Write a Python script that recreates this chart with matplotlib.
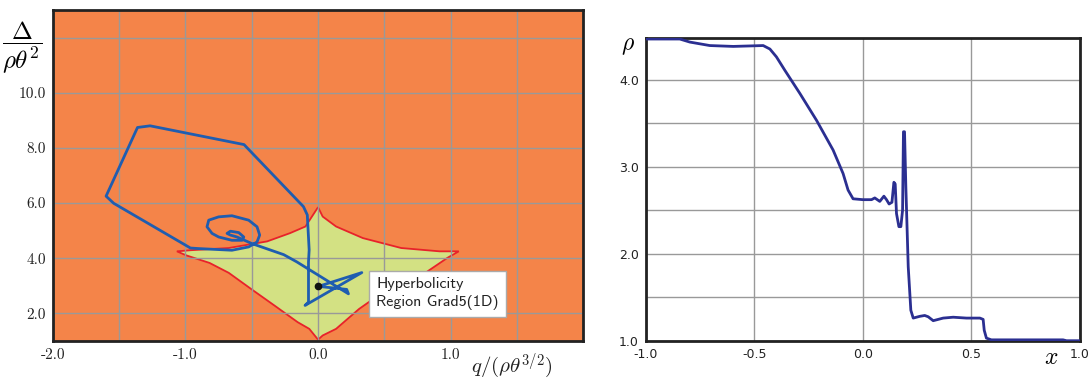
import numpy as np
import matplotlib
matplotlib.use("Agg")
import matplotlib.pyplot as plt

plt.rcParams['mathtext.fontset'] = 'cm'

# hyperbolicity region boundary (q, Delta)
region_q = [0.0, -0.095, -0.211, -0.384, -0.673, -0.962, -1.064, -0.991, -0.818,
            -0.673, -0.5, -0.327, -0.153, -0.066, 0.0, 0.035, 0.136, 0.309, 0.483,
            0.772, 0.974, 1.061, 0.916, 0.627, 0.338, 0.136, 0.035]
region_d = [5.85, 5.15, 4.91, 4.61, 4.37, 4.29, 4.25, 4.10, 3.83,
            3.47, 2.87, 2.28, 1.68, 1.44, 1.05, 1.20, 1.44, 2.16, 2.75,
            3.35, 4.01, 4.25, 4.25, 4.37, 4.73, 5.15, 5.51]

# trajectory through phase space
traj_q = [0.003, 0.330, -0.098, -0.072, -0.072, -0.067, -0.081, -0.110, -0.558,
          -1.266, -1.361, -1.598, -1.540, -0.962, -0.900, -0.649, -0.523, -0.460,
          -0.440, -0.460, -0.523, -0.649, -0.749, -0.824, -0.837, -0.799, -0.749,
          -0.649, -0.573, -0.560, -0.598, -0.661, -0.686, -0.661, -0.611, -0.498,
          -0.259, -0.161, 0.229, 0.216, 0.003]
traj_d = [2.98, 3.48, 2.29, 2.41, 3.87, 4.30, 5.57, 5.87, 8.12,
          8.80, 8.74, 6.25, 5.99, 4.37, 4.35, 4.29, 4.41, 4.59,
          4.84, 5.14, 5.38, 5.54, 5.50, 5.38, 5.14, 4.90, 4.77,
          4.65, 4.65, 4.77, 4.93, 4.98, 4.90, 4.84, 4.77, 4.53,
          4.13, 3.87, 2.71, 2.87, 2.98]

# density profile
x_pos = [-1.0, -0.843, -0.797, -0.705, -0.597, -0.459, -0.428, -0.398, -0.359,
         -0.290, -0.213, -0.137, -0.091, -0.068, -0.045, 0.0, 0.040, 0.055, 0.078,
         0.097, 0.109, 0.121, 0.134, 0.143, 0.149, 0.155, 0.166, 0.175, 0.183,
         0.187, 0.192, 0.198, 0.209, 0.221, 0.232, 0.262, 0.285, 0.301, 0.324,
         0.370, 0.416, 0.477, 0.539, 0.554, 0.559, 0.569, 0.592, 0.922, 0.938, 1.0]
rho = [4.465, 4.465, 4.43, 4.39, 4.38, 4.39, 4.35, 4.26, 4.105,
       3.84, 3.53, 3.19, 2.92, 2.73, 2.63, 2.62, 2.62, 2.64, 2.60,
       2.66, 2.62, 2.57, 2.59, 2.82, 2.80, 2.46, 2.31, 2.31, 2.50,
       3.40, 3.40, 2.77, 1.85, 1.35, 1.26, 1.28, 1.29, 1.275, 1.23,
       1.26, 1.27, 1.26, 1.26, 1.245, 1.12, 1.03, 1.01, 1.01, 1.0, 1.0]

fig = plt.figure(figsize=(10.92, 3.79), dpi=100)

# ---- left: phase space
ax1 = fig.add_axes([0.0483, 0.1003, 0.4859, 0.8734])
ax1.set_facecolor('#F48449')
ax1.fill(region_q, region_d, facecolor='#D3E183', edgecolor='#E8222A', lw=1.3, zorder=1)
ax1.plot(traj_q, traj_d, color='#1F5DB0', lw=2, zorder=3, solid_joinstyle='round')
ax1.plot([0.0], [2.98], 'o', color='#111111', ms=4.5, zorder=4)
ax1.set_xlim(-2, 2)
ax1.set_ylim(1, 13)
ax1.set_xticks(np.arange(-2, 2.01, 0.5))
ax1.set_xticklabels(['-2.0', '', '-1.0', '', '0.0', '', '1.0', '', ''])
ax1.set_yticks([2, 4, 6, 8, 10, 12])
ax1.set_yticklabels(['2.0', '4.0', '6.0', '8.0', '10.0', ''])
ax1.set_axisbelow(False)
ax1.grid(True, color='#999999', lw=1)
ax1.tick_params(length=0, labelsize=11, pad=5)
for lab in ax1.get_xticklabels() + ax1.get_yticklabels():
    lab.set_family('cmr10')
    lab.set_color('#222222')
for sp in ax1.spines.values():
    sp.set_linewidth(2)
    sp.set_color('#222222')
    sp.set_zorder(5)
ax1.text(0.44, 2.72, 'Hyperbolicity\nRegion Grad5(1D)', fontsize=11.5, color='#222222',
         family='cmss10', va='center', ha='left', linespacing=1.4, zorder=6,
         bbox=dict(boxstyle='square,pad=0.45', fc='white', ec='#AAAAAA', lw=1))
fig.text(22 / 1092, 1 - 48 / 379, r'$\dfrac{\Delta}{\rho\theta^2}$', fontsize=18,
         ha='center', va='center')
fig.text(512 / 1092, 1 - 366 / 379, r'$q/(\rho\theta^{3/2})$', fontsize=15,
         ha='center', va='center', color='#222222')

# ---- right: density
ax2 = fig.add_axes([0.5913, 0.1010, 0.3977, 0.7995])
ax2.plot(x_pos, rho, color='#2B2F91', lw=2, zorder=3)
ax2.set_xlim(-1, 1)
ax2.set_ylim(1, 4.48)
ax2.set_xticks([-1, -0.5, 0, 0.5, 1])
ax2.set_xticklabels(['-1.0', '-0.5', '0.0', '0.5', '1.0'])
ax2.set_yticks(np.arange(1, 4.01, 0.5))
ax2.set_yticklabels(['1.0', '', '2.0', '', '3.0', '', '4.0'])
ax2.grid(True, color='#999999', lw=1)
ax2.tick_params(length=0, labelsize=9, pad=5, colors='#222222')
for sp in ax2.spines.values():
    sp.set_linewidth(2)
    sp.set_color('#222222')
fig.text(628 / 1092, 1 - 45 / 379, r'$\rho$', fontsize=17, ha='center', va='center')
fig.text(1051 / 1092, 1 - 357 / 379, r'$x$', fontsize=17, ha='center', va='center')

fig.savefig('out.png', dpi=100)
